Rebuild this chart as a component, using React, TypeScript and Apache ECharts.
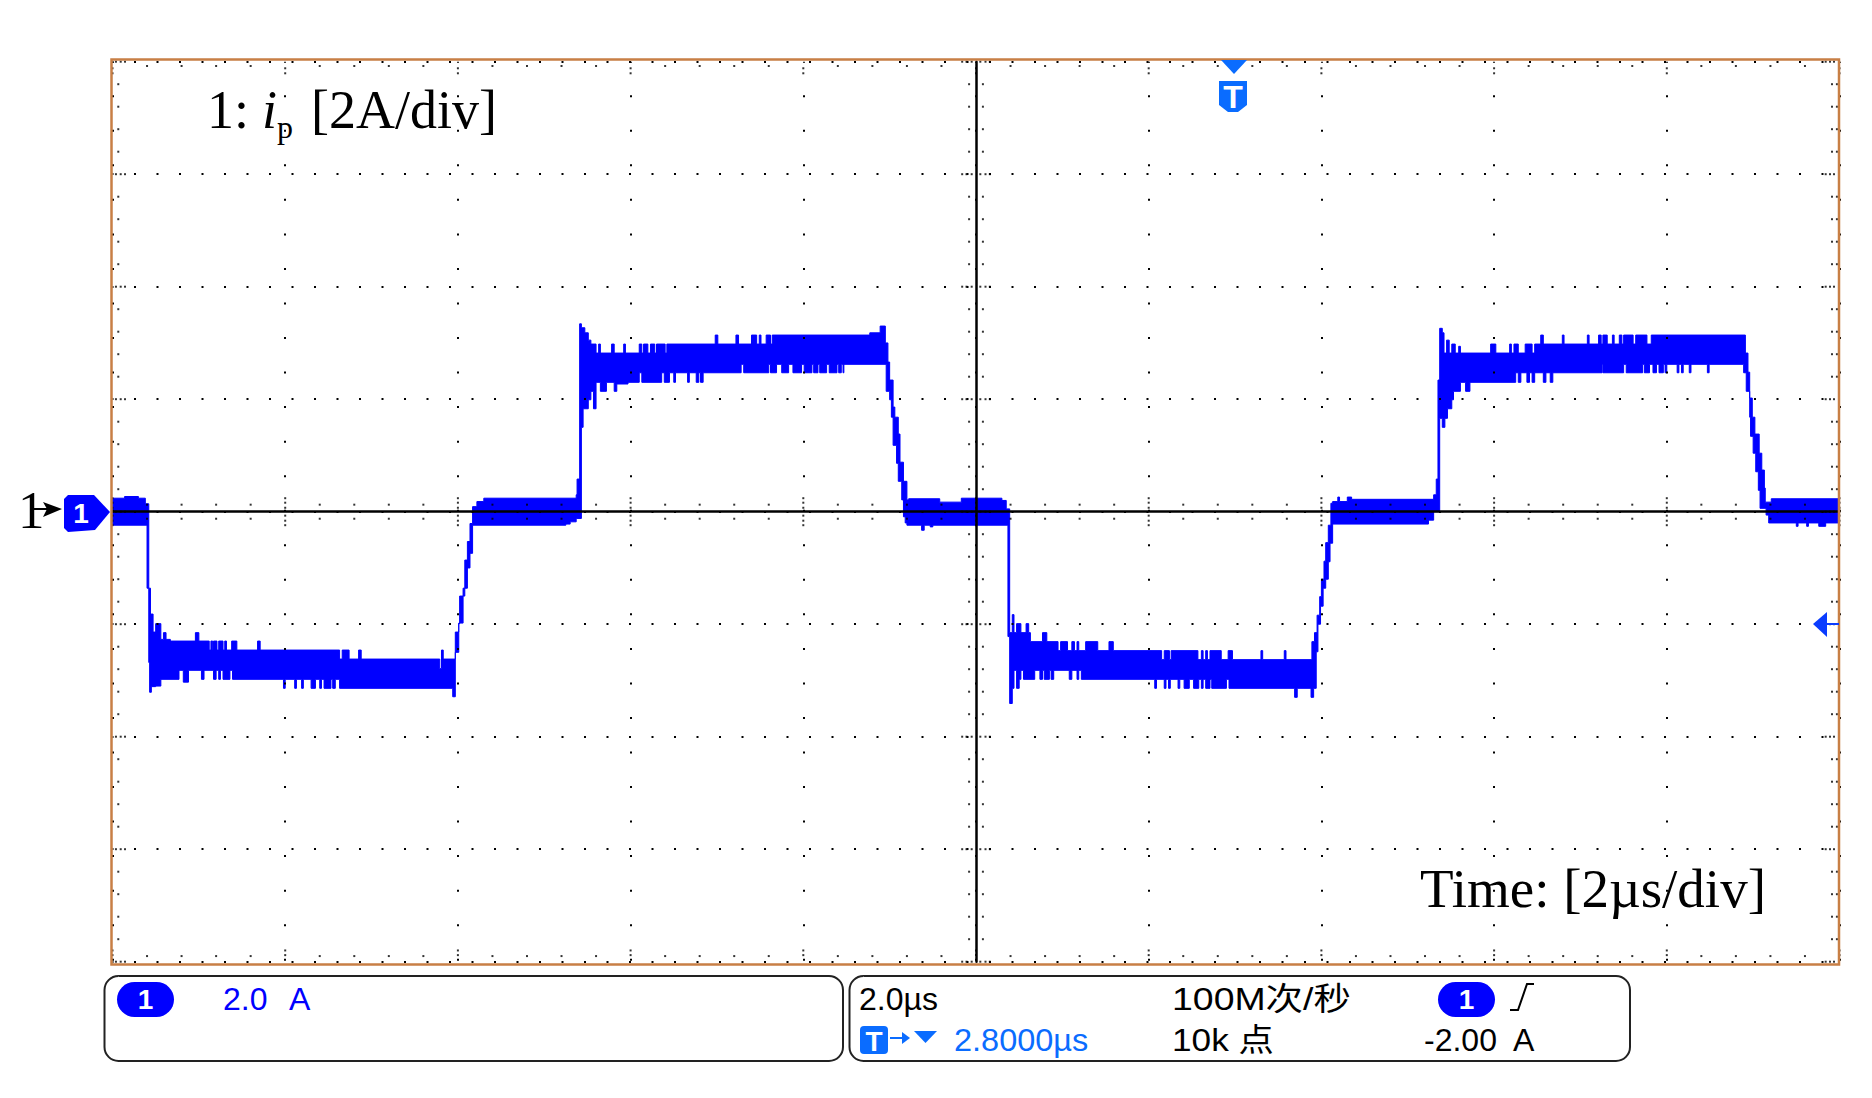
import React, { useEffect, useRef } from "react";
import * as echarts from "echarts";

type P = [number, number];

// time in µs, current in A: each pair holds until the next time
const upperLow0: P[] = [[-10, 0.24], [-9.86, 0.27], [-9.7, 0.24], [-9.62, 0.14]];
const upperNeg1: P[] = [[-9.58, -1.36], [-9.56, -1.82], [-9.53, -2.14], [-9.5, -1.99], [-9.44, -2.27], [-9.41, -2.15], [-9.38, -2.27], [-9.33, -2.3], [-9.04, -2.15], [-9.0, -2.3], [-8.88, -2.46], [-8.86, -2.3], [-8.84, -2.46], [-8.83, -2.3], [-8.79, -2.46], [-8.77, -2.3], [-8.72, -2.46], [-8.7, -2.3], [-8.68, -2.46], [-8.62, -2.3], [-8.56, -2.46], [-8.32, -2.3], [-8.29, -2.46], [-7.37, -2.62], [-7.34, -2.46], [-7.26, -2.62], [-7.15, -2.46], [-7.12, -2.62], [-6.21, -2.79], [-6.19, -2.46], [-6.17, -2.62], [-6.03, -2.14], [-5.99, -1.99], [-5.98, -1.5], [-5.92, -0.86], [-5.89, -0.53], [-5.86, -0.21], [-5.83, 0.09], [-5.78, 0.18], [-5.7, 0.24]];
const upperPos1: P[] = [[-4.63, 0.3], [-4.62, 0.58], [-4.59, 3.34], [-4.57, 3.27], [-4.53, 3.18], [-4.49, 3.05], [-4.46, 2.98], [-4.4, 2.82], [-4.37, 2.98], [-4.35, 2.82], [-4.22, 2.98], [-4.19, 2.82], [-4.08, 2.98], [-4.06, 2.82], [-3.9, 2.98], [-3.87, 2.82], [-3.85, 2.98], [-3.8, 2.82], [-3.77, 2.98], [-3.72, 2.82], [-3.7, 2.98], [-3.6, 2.82], [-3.58, 2.98], [-3.02, 3.14], [-2.99, 2.98], [-2.78, 3.14], [-2.75, 2.98], [-2.6, 3.14], [-2.54, 2.98], [-2.51, 3.14], [-2.49, 2.98], [-2.43, 3.14], [-2.38, 2.98], [-2.36, 3.14], [-1.23, 3.18], [-1.11, 3.3], [-1.05, 3.0], [-1.02, 2.66], [-1.0, 2.34], [-0.96, 1.86], [-0.94, 1.68], [-0.9, 1.38], [-0.88, 0.88], [-0.84, 0.54], [-0.8, 0.21], [-0.78, 0.23], [-0.42, 0.17], [-0.17, 0.24], [0.3, 0.2], [0.35, 0.05]];
const upperNeg2: P[] = [[0.39, -2.15], [0.42, -1.83], [0.44, -2.15], [0.47, -1.99], [0.52, -2.15], [0.58, -1.99], [0.61, -2.15], [0.63, -2.31], [0.77, -2.15], [0.82, -2.31], [0.95, -2.47], [0.98, -2.31], [1.06, -2.47], [1.11, -2.31], [1.14, -2.47], [1.17, -2.31], [1.19, -2.47], [1.27, -2.31], [1.41, -2.47], [1.54, -2.31], [1.59, -2.47], [2.15, -2.63], [2.18, -2.47], [2.24, -2.63], [2.26, -2.47], [2.57, -2.63], [2.61, -2.47], [2.63, -2.63], [2.66, -2.47], [2.68, -2.63], [2.71, -2.47], [2.84, -2.63], [2.92, -2.47], [2.97, -2.63], [3.3, -2.47], [3.32, -2.63], [3.57, -2.47], [3.59, -2.63], [3.89, -2.31], [3.92, -2.15], [3.95, -1.84], [3.98, -1.51], [4.0, -1.2], [4.03, -0.88], [4.05, -0.55], [4.08, -0.24], [4.11, 0.15], [4.13, 0.18], [4.19, 0.26], [4.21, 0.18], [4.3, 0.26], [4.35, 0.22], [5.3, 0.3], [5.33, 0.58]];
const upperPos2: P[] = [[5.35, 2.34], [5.37, 3.26], [5.4, 3.18], [5.42, 2.82], [5.45, 3.05], [5.48, 2.82], [5.51, 2.98], [5.55, 2.82], [5.59, 2.94], [5.61, 2.82], [5.96, 2.98], [6.02, 2.82], [6.18, 2.98], [6.2, 2.82], [6.23, 2.98], [6.28, 2.82], [6.36, 2.98], [6.44, 2.82], [6.47, 2.98], [6.54, 3.14], [6.57, 2.98], [6.79, 3.14], [6.81, 2.98], [7.08, 3.14], [7.1, 2.98], [7.21, 3.14], [7.24, 2.98], [7.26, 3.14], [7.31, 2.98], [7.37, 3.14], [7.39, 2.98], [7.45, 3.14], [7.48, 2.98], [7.5, 3.14], [7.61, 2.98], [7.64, 3.14], [7.77, 2.98], [7.82, 3.14], [8.91, 2.82], [8.94, 2.48], [8.96, 2.02], [8.99, 1.68], [9.02, 1.38], [9.07, 1.04], [9.1, 0.74], [9.13, 0.42], [9.14, 0.17], [9.21, 0.23], [10, 0.23]];

const lowerLow0: P[] = [[-10, -0.24]];
const lowerNeg1: P[] = [[-9.6, -1.36], [-9.58, -2.68], [-9.57, -3.21], [-9.55, -3.11], [-9.5, -3.1], [-9.44, -2.98], [-9.23, -2.82], [-9.18, -3.03], [-9.12, -2.82], [-8.97, -2.98], [-8.94, -2.82], [-8.83, -2.98], [-8.8, -2.82], [-8.77, -2.98], [-8.75, -2.82], [-8.72, -2.98], [-8.64, -2.82], [-8.61, -2.98], [-8.02, -3.14], [-8.0, -2.98], [-7.89, -3.14], [-7.87, -2.98], [-7.81, -3.14], [-7.79, -2.98], [-7.7, -3.14], [-7.65, -2.98], [-7.6, -3.14], [-7.58, -2.98], [-7.55, -3.14], [-7.47, -2.98], [-7.45, -3.14], [-7.42, -2.98], [-7.37, -3.14], [-6.06, -3.29], [-6.03, -2.5], [-5.99, -1.98], [-5.94, -1.36], [-5.89, -1.0], [-5.86, -0.74], [-5.83, -0.24]];
const lowerPos1: P[] = [[-4.75, -0.22], [-4.7, -0.18], [-4.63, -0.12], [-4.57, 1.5], [-4.55, 1.83], [-4.49, 1.99], [-4.46, 2.14], [-4.43, 1.83], [-4.4, 2.3], [-4.35, 2.14], [-4.28, 2.3], [-4.19, 2.14], [-4.16, 2.27], [-4.03, 2.3], [-3.9, 2.47], [-3.87, 2.3], [-3.64, 2.47], [-3.61, 2.3], [-3.55, 2.47], [-3.5, 2.3], [-3.48, 2.47], [-3.34, 2.3], [-3.32, 2.47], [-3.24, 2.3], [-3.21, 2.47], [-3.19, 2.3], [-3.16, 2.47], [-2.72, 2.62], [-2.69, 2.47], [-2.4, 2.62], [-2.38, 2.47], [-2.31, 2.62], [-2.25, 2.47], [-2.17, 2.62], [-2.12, 2.47], [-2.02, 2.62], [-1.99, 2.47], [-1.9, 2.62], [-1.88, 2.47], [-1.83, 2.62], [-1.81, 2.47], [-1.73, 2.62], [-1.7, 2.47], [-1.61, 2.62], [-1.59, 2.47], [-1.56, 2.62], [-1.54, 2.47], [-1.53, 2.62], [-1.04, 2.14], [-1.0, 1.99], [-0.98, 1.68], [-0.96, 1.18], [-0.92, 0.86], [-0.9, 0.54], [-0.86, 0.21], [-0.84, -0.09], [-0.82, -0.2], [-0.8, -0.24], [-0.63, -0.33], [-0.6, -0.24], [-0.53, -0.27], [-0.5, -0.24]];
const lowerNeg2: P[] = [[0.37, -2.22], [0.39, -3.41], [0.42, -3.14], [0.44, -2.82], [0.47, -3.14], [0.5, -2.98], [0.52, -2.82], [0.55, -2.98], [0.68, -2.82], [0.74, -2.98], [0.77, -2.82], [0.79, -2.98], [0.85, -2.82], [0.87, -2.98], [0.9, -2.82], [1.08, -2.98], [1.11, -2.82], [1.17, -2.98], [1.19, -2.82], [1.22, -2.98], [2.07, -3.14], [2.09, -2.98], [2.18, -3.14], [2.2, -2.98], [2.23, -3.14], [2.25, -2.98], [2.34, -3.14], [2.36, -2.98], [2.41, -3.14], [2.47, -2.98], [2.52, -3.14], [2.58, -2.98], [2.61, -3.14], [2.63, -2.98], [2.66, -3.14], [2.71, -2.98], [2.73, -3.14], [2.9, -2.98], [2.93, -3.14], [3.69, -3.3], [3.72, -3.14], [3.88, -3.3], [3.91, -3.14], [3.94, -2.49], [3.96, -2.0], [3.99, -1.68], [4.02, -1.36], [4.05, -1.2], [4.08, -0.89], [4.1, -0.56], [4.13, -0.22], [5.24, -0.15], [5.3, 0.0]];
const lowerPos2: P[] = [[5.37, 1.66], [5.4, 1.5], [5.43, 1.66], [5.46, 1.83], [5.51, 1.99], [5.53, 2.14], [5.61, 2.3], [5.67, 2.14], [5.72, 2.3], [6.25, 2.47], [6.28, 2.3], [6.31, 2.47], [6.38, 2.3], [6.41, 2.47], [6.44, 2.3], [6.47, 2.47], [6.57, 2.3], [6.6, 2.47], [6.65, 2.3], [6.68, 2.47], [7.25, 2.62], [7.26, 2.47], [7.5, 2.62], [7.53, 2.47], [7.72, 2.62], [7.74, 2.47], [7.8, 2.62], [7.84, 2.47], [7.88, 2.62], [7.91, 2.47], [7.96, 2.62], [7.98, 2.47], [8.0, 2.62], [8.12, 2.47], [8.14, 2.62], [8.17, 2.47], [8.19, 2.62], [8.26, 2.47], [8.28, 2.62], [8.47, 2.47], [8.49, 2.62], [8.89, 2.47], [8.92, 2.14], [8.96, 1.68], [8.97, 1.34], [9.0, 1.04], [9.03, 0.71], [9.06, 0.38], [9.08, 0.06], [9.15, -0.06], [9.18, -0.2], [9.5, -0.26], [9.52, -0.2], [9.62, -0.26], [9.64, -0.2], [9.76, -0.26], [9.84, -0.2], [10, -0.2]];

const upperTrace: P[] = [...upperLow0, ...upperNeg1, ...upperPos1, ...upperNeg2, ...upperPos2];
const lowerTrace: P[] = [...lowerLow0, ...lowerNeg1, ...lowerPos1, ...lowerNeg2, ...lowerPos2];

const timeMajor = [-10, -8, -6, -4, -2, 0, 2, 4, 6, 8, 10];
const timeMinor = [0.4, 0.8, 1.2, 1.6];
const ampMajor = [-8, -6, -4, -2, 0, 2, 4, 6, 8];
const ampMinor = [0.4, 0.8, 1.2, 1.6];

const steps = (pts: P[]): P[] => {
  const out: P[] = [];
  pts.forEach((p, i) => {
    out.push(p);
    if (i < pts.length - 1) out.push([pts[i + 1][0], p[1]]);
  });
  return out;
};
const outline: P[] = [...steps(upperTrace), ...steps(lowerTrace).reverse()];

const minorTimes = timeMajor.slice(0, -1).flatMap((t) => timeMinor.map((m) => +(t + m).toFixed(2)));
const minorAmps = ampMajor.slice(0, -1).flatMap((a) => ampMinor.map((m) => +(a + m).toFixed(2)));

const rulerDots: P[] = [
  ...minorTimes.flatMap((t) => [0.125, -0.125].map((o) => [t, o] as P)),
  ...timeMajor.flatMap((t) => [0.07, 0.16, 0.24, -0.07, -0.16, -0.24].map((o) => [t, o] as P)),
  ...minorAmps.flatMap((a) => [0.08, -0.08].map((o) => [o, a] as P)),
  ...ampMajor.flatMap((a) => [0.05, 0.11, 0.16, -0.05, -0.11, -0.16].map((o) => [o, a] as P)),
  ...minorAmps.flatMap((a) => [[-9.933, a] as P, [9.913, a] as P, [9.97, a] as P]),
  ...ampMajor.flatMap((a) => [-9.96, -9.905, -9.855, 9.84, 9.89, 9.936].map((t) => [t, a] as P)),
  ...minorTimes.flatMap((t) => [[t, 7.924] as P, [t, -7.9] as P]),
  ...timeMajor.flatMap((t) => [7.883, 7.794, -7.883, -7.8].map((a) => [t, a] as P)),
];

const INSTR = "'Liberation Sans','Noto Sans CJK SC',sans-serif";
const SERIF = "'Liberation Serif',serif";
const BLUE = "#0000ff";
const TRIG = "#0a6cff";

const txt = (text: string, x: number, y: number, size: number, fill: string, family = INSTR, extra: any = {}, el: any = {}) => ({
  type: "text", x, y, z: 30, ...el,
  style: { text, fontSize: size, fontFamily: family, fill, verticalAlign: "middle", align: "left", ...extra },
});
const poly = (points: number[][], fill: string) => ({ type: "polygon", z: 30, shape: { points }, style: { fill } });
const panel = (x: number, width: number) => ({
  type: "rect", z: 30, shape: { x, y: 976, width, height: 85, r: 14 },
  style: { fill: "none", stroke: "#222222", lineWidth: 2 },
});
const oval = (x: number) => [
  { type: "rect", z: 30, shape: { x, y: 982, width: 57, height: 35, r: 17.5 }, style: { fill: BLUE } },
  txt("1", x + 28.5, 999, 28, "#ffffff", INSTR, { align: "center", fontWeight: "bold" }),
];

const graphics: any[] = [
  { type: "rect", z: 30, shape: { x: 111.5, y: 59.5, width: 1727.5, height: 905 }, style: { fill: "none", stroke: "#c87f45", lineWidth: 2.5 } },
  txt("1:", 207, 110, 54, "#000000", SERIF),
  txt("i", 262, 110, 54, "#000000", SERIF, { fontStyle: "italic" }),
  txt("p", 277, 127, 32, "#000000", SERIF),
  txt("[2A/div]", 311, 110, 54, "#000000", SERIF),
  txt("Time: [2µs/div]", 1420, 888, 55, "#000000", SERIF),
  txt("1", 18, 510, 53, "#000000", SERIF),
  { type: "line", z: 30, shape: { x1: 33, y1: 509, x2: 48, y2: 509 }, style: { stroke: "#000000", lineWidth: 2 } },
  poly([[43, 502], [62, 509], [43, 517], [47, 509]], "#000000"),
  poly([[64, 499], [68, 495], [94, 495], [110, 512], [95, 530], [68, 532], [64, 528]], BLUE),
  txt("1", 81, 513, 28, "#ffffff", INSTR, { align: "center", fontWeight: "bold" }),
  poly([[1221, 60], [1247, 60], [1234, 74]], TRIG),
  poly([[1219, 81], [1247, 81], [1247, 105], [1238, 112], [1228, 112], [1219, 105]], TRIG),
  txt("T", 1233, 97, 32, "#ffffff", INSTR, { align: "center", fontWeight: "bold" }),
  poly([[1813, 624], [1827, 612], [1827, 637]], "#0a3cff"),
  { type: "line", z: 30, shape: { x1: 1826, y1: 624, x2: 1839, y2: 624 }, style: { stroke: "#0a3cff", lineWidth: 2 } },
  panel(104.5, 738.5),
  panel(849.5, 780.5),
  ...oval(117),
  ...oval(1438),
  txt("2.0", 223, 999, 32, BLUE),
  txt("A", 289, 999, 32, BLUE),
  txt("2.0µs", 859, 999, 32, "#000000"),
  txt("100M次/秒", 1172, 999, 32, "#000000", INSTR, {}, { scaleX: 1.17 }),
  { type: "polyline", z: 30, shape: { points: [[1510, 1010], [1518, 1010], [1527, 984], [1534, 984]] }, style: { fill: "none", stroke: "#000000", lineWidth: 2 } },
  { type: "rect", z: 30, shape: { x: 860, y: 1026, width: 28, height: 28, r: 4 }, style: { fill: TRIG } },
  txt("T", 874, 1041, 28, "#ffffff", INSTR, { align: "center", fontWeight: "bold" }),
  { type: "line", z: 30, shape: { x1: 890, y1: 1038, x2: 905, y2: 1038 }, style: { stroke: TRIG, lineWidth: 2 } },
  poly([[902, 1032], [910, 1038], [902, 1044]], TRIG),
  poly([[914, 1031], [937, 1031], [925.5, 1043]], TRIG),
  txt("2.8000µs", 954, 1040, 32, TRIG, INSTR, {}, { scaleX: 1.015 }),
  txt("10k 点", 1172, 1040, 32, "#000000", INSTR, {}, { scaleX: 1.1 }),
  txt("-2.00  A", 1424, 1040, 32, "#000000"),
];

const dotted = (dash: number[]) => ({
  show: true,
  lineStyle: { color: "#000000", width: 2, type: dash, dashOffset: 1 },
});

export default function App() {
  const ref = useRef<HTMLDivElement>(null);
  useEffect(() => {
    const chart = echarts.init(ref.current!, null, { renderer: "svg" });
    chart.setOption({
      animation: false,
      backgroundColor: "#ffffff",
      grid: { left: 112.5, right: 32.5, top: 61.7, bottom: 136.3 },
      xAxis: {
        type: "value", min: -10, max: 10, interval: 2, z: 10,
        axisLine: { show: true, onZero: true, lineStyle: { color: "#000000", width: 2.5 } },
        axisTick: { show: false }, axisLabel: { show: false },
        splitLine: dotted([2, 32.54]),
      },
      yAxis: {
        type: "value", min: -8, max: 8, interval: 2, z: 10,
        axisLine: { show: true, onZero: true, lineStyle: { color: "#000000", width: 2.5 } },
        axisTick: { show: false }, axisLabel: { show: false },
        splitLine: dotted([2, 20.5]),
      },
      graphic: graphics,
      series: [
        {
          type: "custom", name: "ip", z: 2, silent: true, clip: true,
          coordinateSystem: "cartesian2d",
          encode: { x: 0, y: 1 },
          data: outline,
          renderItem: (params: any, api: any) => {
            if (params.dataIndex !== 0) return null;
            return {
              type: "polygon",
              shape: { points: outline.map((p) => api.coord(p)) },
              style: { fill: BLUE, stroke: BLUE, lineWidth: 1, lineJoin: "miter" },
            };
          },
        },
        {
          type: "scatter", name: "rulers", z: 12, silent: true,
          symbol: "rect", symbolSize: 2,
          itemStyle: { color: "#000000" },
          data: rulerDots,
        },
      ],
    });
    return () => chart.dispose();
  }, []);
  return <div ref={ref} style={{ position: "absolute", left: 0, top: 0, width: 1872, height: 1098 }} />;
}
